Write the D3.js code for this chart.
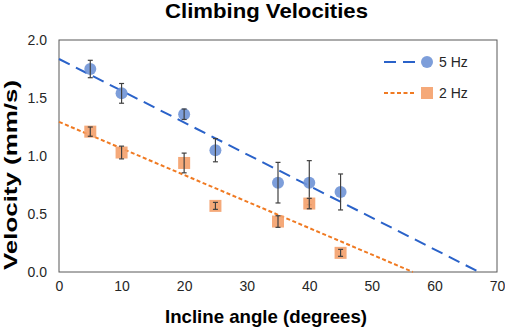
<!DOCTYPE html>
<html>
<head>
<meta charset="utf-8">
<script src="https://cdn.jsdelivr.net/npm/d3@7"></script>
<style>
  body { margin: 0; background: #fff; }
  text { font-family: "Liberation Sans", Arial, sans-serif; }
</style>
</head>
<body>
<div id="chart"></div>
<script>
// data
var angles = [5, 10, 20, 25, 35, 40, 45];
var vel5 = [1.75, 1.54, 1.36, 1.05, 0.77, 0.77, 0.69];
var err5 = [0.075, 0.085, 0.045, 0.10, 0.175, 0.19, 0.155];
var vel2 = [1.21, 1.03, 0.94, 0.57, 0.435, 0.59, 0.165];
var err2 = [0.04, 0.055, 0.085, 0.03, 0.05, 0.045, 0.03];
var xTicks = [0, 10, 20, 30, 40, 50, 60, 70];
var yTicks = [0, 0.5, 1.0, 1.5, 2.0];

var svgWidth = 505, svgHeight = 328;
var margin = {top: 40, right: 8, bottom: 56, left: 59};
var width = svgWidth - margin.left - margin.right;
var height = svgHeight - margin.top - margin.bottom;

var svg = d3.select("#chart").append("svg")
  .attr("width", svgWidth)
  .attr("height", svgHeight);

var chartGroup = svg.append("g")
  .attr("transform", `translate(${margin.left}, ${margin.top})`);

var x = d3.scaleLinear().domain([0, 70]).range([0, width]);
var y = d3.scaleLinear().domain([0, 2]).range([height, 0]);

// plot frame
chartGroup.append("rect")
  .attr("width", width).attr("height", height)
  .attr("fill", "none").attr("stroke", "#595959").attr("stroke-width", 1);

// axes (labels only)
var xAxis = chartGroup.append("g")
  .attr("transform", `translate(0, ${height})`)
  .call(d3.axisBottom(x).tickValues(xTicks).tickSize(0).tickPadding(9));
var yAxis = chartGroup.append("g")
  .call(d3.axisLeft(y).tickValues(yTicks).tickSize(0).tickPadding(12).tickFormat(d3.format(".1f")));
[xAxis, yAxis].forEach(function(a) {
  a.select(".domain").remove();
  a.selectAll("text").attr("font-size", 14).attr("fill", "#262626")
    .style("font-family", "'Liberation Sans', Arial, sans-serif");
});

// linear fit like the spreadsheet trendline
function fit(xs, ys) {
  var mx = d3.mean(xs), my = d3.mean(ys);
  var sxy = d3.sum(xs, (v, i) => (v - mx) * (ys[i] - my));
  var sxx = d3.sum(xs, v => (v - mx) * (v - mx));
  var slope = sxy / sxx;
  return {slope: slope, intercept: my - slope * mx};
}

var series = [
  {name: "5 Hz", vals: vel5, errs: err5, fill: "#6f93d6", line: "#2a62c9", dash: "12,7", shape: "circle"},
  {name: "2 Hz", vals: vel2, errs: err2, fill: "#f4a06a", line: "#f07a22", dash: "4,2.5", shape: "square"}
];

series.forEach(function(s) {
  var f = fit(angles, s.vals);
  var xEnd = -f.intercept / f.slope;
  chartGroup.append("line")
    .attr("x1", x(0)).attr("y1", y(f.intercept))
    .attr("x2", x(xEnd)).attr("y2", y(0))
    .attr("stroke", s.line).attr("stroke-width", 2)
    .attr("stroke-dasharray", s.dash);
});

series.forEach(function(s) {
  var pts = angles.map((a, i) => ({a: a, v: s.vals[i], e: s.errs[i]}));
  var g = chartGroup.append("g");
  if (s.shape === "circle") {
    g.selectAll("circle").data(pts).enter().append("circle")
      .attr("cx", d => x(d.a)).attr("cy", d => y(d.v)).attr("r", 6)
      .attr("fill", s.fill).attr("opacity", 0.9);
  } else {
    g.selectAll("rect").data(pts).enter().append("rect")
      .attr("x", d => x(d.a) - 6).attr("y", d => y(d.v) - 6)
      .attr("width", 12).attr("height", 12)
      .attr("fill", s.fill).attr("opacity", 0.9);
  }
  var eb = g.selectAll(".err").data(pts).enter().append("g").attr("class", "err")
    .attr("stroke", "#404040").attr("stroke-width", 1.2);
  eb.append("line")
    .attr("x1", d => x(d.a)).attr("x2", d => x(d.a))
    .attr("y1", d => y(d.v + d.e)).attr("y2", d => y(d.v - d.e));
  eb.append("line")
    .attr("x1", d => x(d.a) - 2.5).attr("x2", d => x(d.a) + 2.5)
    .attr("y1", d => y(d.v + d.e)).attr("y2", d => y(d.v + d.e));
  eb.append("line")
    .attr("x1", d => x(d.a) - 2.5).attr("x2", d => x(d.a) + 2.5)
    .attr("y1", d => y(d.v - d.e)).attr("y2", d => y(d.v - d.e));
});

// legend
var legend = svg.append("g").attr("transform", "translate(384, 62)");
series.forEach(function(s, i) {
  var row = legend.append("g").attr("transform", `translate(0, ${i * 31})`);
  row.append("line").attr("x1", 0).attr("x2", 31).attr("y1", 0).attr("y2", 0)
    .attr("stroke", s.line).attr("stroke-width", 2).attr("stroke-dasharray", s.dash);
  if (s.shape === "circle") {
    row.append("circle").attr("cx", 43).attr("cy", 0).attr("r", 6)
      .attr("fill", s.fill).attr("opacity", 0.9);
  } else {
    row.append("rect").attr("x", 37).attr("y", -6).attr("width", 12).attr("height", 12)
      .attr("fill", s.fill).attr("opacity", 0.9);
  }
  row.append("text").attr("x", 55).attr("y", 0).attr("dy", "0.35em")
    .attr("font-size", 14).attr("fill", "#262626").text(s.name);
});

// titles
svg.append("text")
  .attr("x", 266.5).attr("y", 18)
  .attr("text-anchor", "middle").attr("font-size", 20.5).attr("font-weight", "bold")
  .attr("textLength", 203).attr("lengthAdjust", "spacingAndGlyphs")
  .attr("fill", "#000").text("Climbing Velocities");

svg.append("text")
  .attr("x", 266).attr("y", 323)
  .attr("text-anchor", "middle").attr("font-size", 18.5).attr("font-weight", "bold")
  .attr("textLength", 202).attr("lengthAdjust", "spacingAndGlyphs")
  .attr("fill", "#000").text("Incline angle (degrees)");

svg.append("text")
  .attr("transform", "rotate(-90)")
  .attr("x", -175).attr("y", 17)
  .attr("text-anchor", "middle").attr("font-size", 18).attr("font-weight", "bold")
  .attr("textLength", 190).attr("lengthAdjust", "spacingAndGlyphs")
  .attr("fill", "#000").text("Velocity (mm/s)");
</script>
</body>
</html>
